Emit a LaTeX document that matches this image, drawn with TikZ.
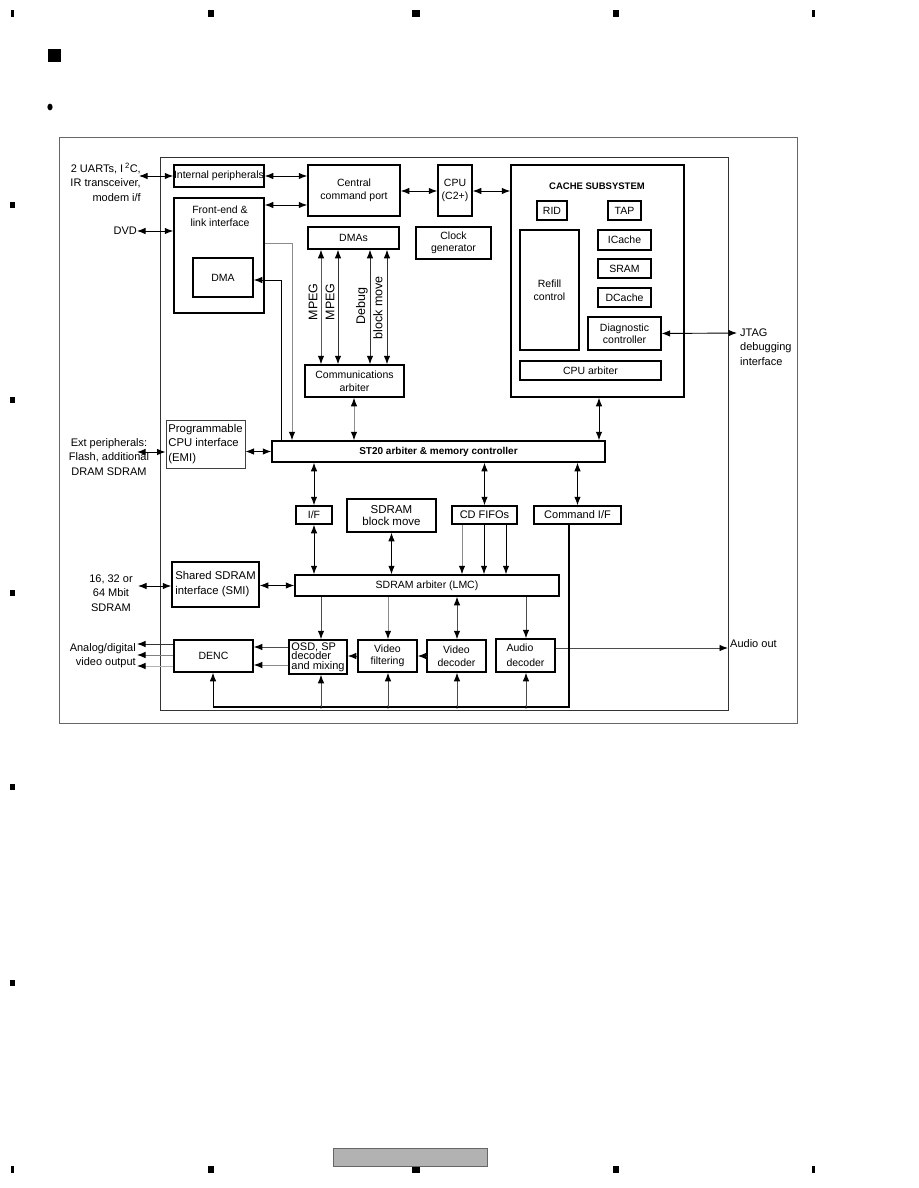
\documentclass[tikz,border=0pt]{standalone}
\usepackage{fontspec}
\setmainfont{Liberation Sans}
\usetikzlibrary{arrows.meta,calc}
\newcommand{\bxfont}{\fontsize{10.5}{12.5}\selectfont}
\newcommand{\exfont}{\fontsize{11}{14.5}\selectfont}
\newcommand{\mybox}[7][]{\node[box,minimum width={#5-#3},minimum height={#6-#4},#1] (#2) at ({(#3+#5)/2},{(#4+#6)/2}) {#7};}
\tikzset{
  mytip/.tip={Latex[length=8.5pt,width=6.5pt,color=black]},
  box/.style={draw, line width=1.5pt, inner sep=0pt, align=center, font=\bxfont},
  sbox/.style={line width=1.2pt},
  ext/.style={inner sep=0pt, font=\exfont},
  rot/.style={inner sep=0pt, rotate=90, font=\fontsize{12.5}{13}\selectfont},
  ln/.style={line width=0.9pt},
  dbl/.style={mytip-mytip, line width=0.9pt},
  arr/.style={-mytip, line width=0.9pt},
  gl/.style={draw=black!45},
  dg/.style={draw=black!70},
}
\begin{document}
\begin{tikzpicture}[x=1pt,y=-1pt]
\useasboundingbox (0,0) rectangle (918,1188);
% page decorations
\foreach \xx/\ww in {12/3,211/6,416/8,616/6,813/3}{
  \fill ({\xx-\ww/2},10) rectangle ({\xx+\ww/2},17);
  \fill ({\xx-\ww/2},1166) rectangle ({\xx+\ww/2},1173);
}
\foreach \yy in {205,400,593,787,983}{
  \fill (10,{\yy-3}) rectangle (15,{\yy+3});
}
\fill (48,49) rectangle (61,62);
\fill (50,107) ellipse (2.6pt and 3.4pt);
\draw[draw=black!60, fill=black!30, line width=0.8pt] (333,1148) rectangle (487,1166);
% frames
\draw[draw=black!60, line width=1pt] (59,138) rectangle (797,723);
\draw[draw=black!80, line width=1pt] (160,157) rectangle (728,710);

% blocks
\mybox{ip}{174}{165}{264}{187}{Internal peripherals}
\mybox{fe}{174}{198}{264}{313}{}
\node[inner sep=0pt, align=center, font=\bxfont] (fetxt) at (220,216) {Front-end \&\\link interface};
\mybox{dma}{193}{258}{253}{297}{DMA}
\mybox{ccp}{308}{165}{400}{216}{Central\\command port}
\mybox{cpu}{438}{165}{472}{216}{CPU\\(C2+)}
\mybox{cache}{511}{165}{684}{397}{}
\node[inner sep=0pt, font=\fontsize{9.5}{11}\selectfont\bfseries] (cachetitle) at (597,186) {CACHE SUBSYSTEM};
\mybox[sbox]{rid}{537}{201}{567}{220}{RID}
\mybox[sbox]{tap}{608}{201}{641}{220}{TAP}
\mybox[sbox]{refill}{520}{230}{579}{350}{Refill\\control}
\mybox[sbox]{icache}{598}{230}{651}{250}{ICache}
\mybox[sbox]{sram}{598}{259}{651}{278}{SRAM}
\mybox[sbox]{dcache}{598}{288}{651}{307}{DCache}
\mybox[sbox]{diag}{588}{317}{661}{350}{Diagnostic\\controller}
\mybox[sbox]{cpuarb}{520}{361}{661}{380}{CPU arbiter}
\mybox{dmas}{308}{227}{399}{249}{DMAs}
\mybox{clk}{416}{227}{491}{259}{Clock\\generator}
\mybox{comm}{305}{365}{404}{397}{Communications\\arbiter}
\mybox[line width=1pt, draw=black!75, align=left, font=\fontsize{11.3}{14.5}\selectfont]{emi}{166}{420}{245}{468}{Programmable\\CPU interface\\(EMI)}
\mybox[font=\fontsize{10}{12}\selectfont\bfseries]{st}{272}{441}{605}{462}{ST20 arbiter \& memory controller}
\mybox{iff}{296}{506}{332}{524}{I/F}
\mybox[font=\fontsize{11.5}{12}\selectfont]{sbm}{347}{499}{436}{532}{SDRAM\\block move}
\mybox[font=\fontsize{11}{12}\selectfont]{cdf}{452}{506}{517}{524}{CD FIFOs}
\mybox[font=\fontsize{11}{12}\selectfont]{cmdif}{534}{506}{621}{524}{Command I/F}
\mybox[align=left, font=\fontsize{11.3}{15}\selectfont]{smi}{172}{562}{259}{607}{Shared SDRAM\\interface (SMI)}
\mybox{sarb}{295}{575}{559}{596}{SDRAM arbiter (LMC)}
\mybox{denc}{174}{640}{253}{672}{DENC}
\mybox[align=left, font=\fontsize{11}{9.5}\selectfont]{osd}{289}{640}{347}{674}{OSD, SP\\decoder\\and mixing}
\mybox{vf}{358}{640}{417}{672}{Video\\filtering}
\mybox{vd}{427}{640}{486}{672}{Video\\decoder}
\mybox[align=left, font=\fontsize{10.5}{15}\selectfont]{ad}{496}{639}{555}{672}{Audio\\decoder}

% external labels
\node[ext, align=right, anchor=east] (uarts) at (141,182) {2 UARTs, I\,\textsuperscript{2}C,\\IR transceiver,\\modem i/f};
\node[ext, anchor=east] (dvd) at (137,231) {DVD};
\node[ext, align=center] (extp) at (109,457) {Ext peripherals:\\Flash, additional\\DRAM SDRAM};
\node[ext, align=center] (sdr) at (111,593) {16, 32 or\\64 Mbit\\SDRAM};
\node[ext, align=right, anchor=east, font=\fontsize{11}{14}\selectfont] (avo) at (136,656) {Analog/digital\\video output};
\node[ext, align=left, anchor=west] (jtag) at (740,347) {JTAG\\debugging\\interface};
\node[ext, anchor=west] (aout) at (730,644) {Audio out};

\coordinate (uartL) at (139,176);
\coordinate (extL) at (137,452);
\coordinate (sdrL) at (138,586);
\coordinate (jtagR) at (737,333);
\coordinate (aoutR) at (728,648);
\coordinate (busR) at (569,707);
\coordinate (busL) at (213,707);

% connectors top
\draw[dbl] (uartL) -- (ip.west |- uartL);
\draw[dbl] (ip.east) -- (ccp.west |- ip.east);
\draw[dbl] (fe.east |- 0,205) -- (ccp.west |- 0,205);
\draw[dbl] (dvd.east) -- (fe.west |- dvd.east);
\draw[dbl] (ccp.east |- 0,191) -- (cpu.west |- 0,191);
\draw[dbl] (cpu.east |- 0,191) -- (cache.west |- 0,191);
\draw[dbl] (diag.east) -- (jtagR);
\draw[ln, gl, -mytip] (fe.east |- 0,243) -- (292,243) -- (st.north -| 292,0);
\draw[arr] (st.north -| 281,0) -- (281,280) -- (dma.east |- 0,280);
\foreach \xx/\cc in {321/black!65,338/black!80,370/black!80,387/black!80}{
  \draw[dbl, draw=\cc] (dmas.south -| \xx,0) -- (comm.north -| \xx,0);
}
\node[rot] (lm1) at (313,302) {MPEG};
\node[rot] (lm2) at (330,302) {MPEG};
\node[rot] (ldbg) at (362,306) {Debug};
\node[rot] (lbm) at (378,308) {block move};
\draw[dbl, gl] (comm.south -| 354,0) -- (st.north -| 354,0);
\draw[dbl] (cache.south -| 599,0) -- (st.north -| 599,0);
\draw[dbl] (emi.east |- st.west) -- (st.west);
\draw[dbl] (extL) -- (emi.west |- extL);

% middle
\draw[dbl] (st.south -| iff.north) -- (iff.north);
\draw[dbl] (iff.south) -- (sarb.north -| iff.south);
\draw[dbl] (sbm.south) -- (sarb.north -| sbm.south);
\draw[dbl] (st.south -| cdf.north) -- (cdf.north);
\draw[dbl] (st.south -| cmdif.north) -- (cmdif.north);
\draw[arr, gl] (cdf.south -| 462,0) -- (sarb.north -| 462,0);
\draw[arr] (cdf.south -| 484,0) -- (sarb.north -| 484,0);
\draw[arr] (cdf.south -| 506,0) -- (sarb.north -| 506,0);
\draw[dbl] (sdrL) -- (smi.west |- sdrL);
\draw[dbl] (smi.east |- sarb.west) -- (sarb.west);

% bottom
\draw[arr, dg] (sarb.south -| 321,0) -- (osd.north -| 321,0);
\draw[arr, gl] (sarb.south -| 388,0) -- (vf.north -| 388,0);
\draw[dbl, dg] (sarb.south -| 457,0) -- (vd.north -| 457,0);
\draw[arr, dg] (sarb.south -| 526,0) -- (ad.north -| 526,0);
\draw[arr, dg] (vd.west |- 0,656) -- (vf.east |- 0,656);
\draw[arr, dg] (vf.west |- 0,656) -- (osd.east |- 0,656);
\draw[arr, dg] (osd.west |- 0,647) -- (denc.east |- 0,647);
\draw[arr, gl] (osd.west |- 0,665) -- (denc.east |- 0,665);
\draw[arr, draw=black!80] (denc.west |- 0,644) -- (137,644);
\draw[arr, draw=black!50] (denc.west |- 0,655) -- (137,655);
\draw[arr, draw=black!30] (denc.west |- 0,666) -- (137,666);
\draw[arr, dg] (ad.east |- aoutR) -- (aoutR);
\draw[line width=1.2pt] (cmdif.south -| busR) -- (busR) -- (busL);
\draw[arr] (busL) -- (denc.south -| busL);
\foreach \xx/\nn in {321/osd,388/vf,457/vd,526/ad}{
  \fill (\xx,707) circle (1.6pt);
  \draw[arr, dg] (\xx,707) -- (\nn.south -| \xx,0);
}
\end{tikzpicture}
\end{document}
